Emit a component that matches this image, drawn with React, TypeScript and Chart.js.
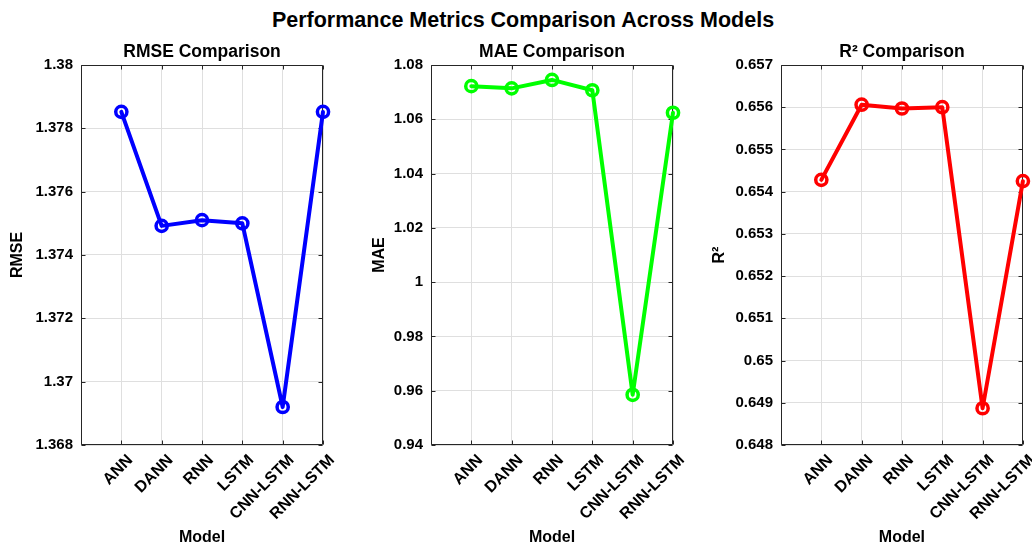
import React, { useEffect, useRef } from 'react';
import { Chart, registerables } from 'chart.js';

Chart.register(...registerables);

// ---- data ----
const models = ['ANN', 'DANN', 'RNN', 'LSTM', 'CNN-LSTM', 'RNN-LSTM'];
const rmseValues = [1.37852, 1.37492, 1.3751, 1.375, 1.3692, 1.37852];
const maeValues = [1.0722, 1.0714, 1.0745, 1.0707, 0.9585, 1.0624];
const r2Values = [0.65428, 0.65606, 0.65597, 0.656, 0.64887, 0.65425];
const rmseTicks = [1.368, 1.37, 1.372, 1.374, 1.376, 1.378, 1.38];
const maeTicks = [0.94, 0.96, 0.98, 1.0, 1.02, 1.04, 1.06, 1.08];
const r2Ticks = [0.648, 0.649, 0.65, 0.651, 0.652, 0.653, 0.654, 0.655, 0.656, 0.657];
const xTickPositions = [0, 1, 2, 3, 4, 5, 6];

const mainTitle = 'Performance Metrics Comparison Across Models';
const xAxisLabel = 'Model';

// ---- layout / style ----
const FONT = '"Liberation Sans", Arial, Helvetica, sans-serif';
const FIG_W = 1032;
const FIG_H = 549;
const CANVAS_W = 344;
const AREA_TOP = 65;
const AREA_BOTTOM = 445;
const GRID = '#dfdfdf';
const AXIS = '#262626';

type PanelDef = {
  title: string;
  yLabel: string;
  values: number[];
  ticks: number[];
  color: string;
  decimals: number;
  canvasLeft: number;
  areaLeft: number;
  areaRight: number;
  yTitleX: number;
};

const panels: PanelDef[] = [
  { title: 'RMSE Comparison', yLabel: 'RMSE', values: rmseValues, ticks: rmseTicks, color: '#0000ff', decimals: 3, canvasLeft: 0, areaLeft: 81, areaRight: 323, yTitleX: 18 },
  { title: 'MAE Comparison', yLabel: 'MAE', values: maeValues, ticks: maeTicks, color: '#00ff00', decimals: 2, canvasLeft: 344, areaLeft: 87, areaRight: 329, yTitleX: 36 },
  { title: 'R² Comparison', yLabel: 'R²', values: r2Values, ticks: r2Ticks, color: '#ff0000', decimals: 3, canvasLeft: 688, areaLeft: 93, areaRight: 336, yTitleX: 32 },
];

function Panel({ def }: { def: PanelDef }) {
  const ref = useRef<HTMLCanvasElement | null>(null);

  useEffect(() => {
    if (!ref.current) return;
    const decor = {
      id: 'decor',
      beforeDatasetsDraw(chart: any) {
        const { ctx, chartArea } = chart;
        const l = Math.round(chartArea.left) + 0.5;
        const r = Math.round(chartArea.right) - 0.5;
        const t = Math.round(chartArea.top) + 0.5;
        const b = Math.round(chartArea.bottom) - 0.5;
        ctx.save();
        ctx.strokeStyle = AXIS;
        ctx.lineWidth = 1;
        ctx.beginPath();
        ctx.rect(l, t, r - l, b - t);
        ctx.stroke();
        const ys = chart.scales.y;
        const xs = chart.scales.x;
        const TL = 4;
        ctx.beginPath();
        def.ticks.forEach((v) => {
          const py = Math.round(ys.getPixelForValue(v)) + 0.5;
          ctx.moveTo(l, py);
          ctx.lineTo(l + TL, py);
          ctx.moveTo(r, py);
          ctx.lineTo(r - TL, py);
        });
        xTickPositions.forEach((v) => {
          const px = Math.round(xs.getPixelForValue(v)) + 0.5;
          ctx.moveTo(px, b);
          ctx.lineTo(px, b - TL);
          ctx.moveTo(px, t);
          ctx.lineTo(px, t + TL);
        });
        ctx.stroke();
        ctx.restore();
      },
      afterDraw(chart: any) {
        const { ctx, chartArea } = chart;
        ctx.save();
        ctx.fillStyle = '#000';
        ctx.font = `bold 17.5px ${FONT}`;
        ctx.textAlign = 'center';
        ctx.textBaseline = 'alphabetic';
        ctx.fillText(def.title, (chartArea.left + chartArea.right) / 2, 57);
        ctx.restore();
      },
    };

    const tickFont = { family: FONT, size: 15, weight: 'bold' as const };
    const xTickFont = { family: FONT, size: 16, weight: 'bold' as const };
    const labelFont = { family: FONT, size: 16, weight: 'bold' as const };
    const chart = new Chart(ref.current, {
      type: 'line',
      data: {
        datasets: [
          {
            data: def.values.map((v, i) => ({ x: i + 1, y: v })),
            borderColor: def.color,
            borderWidth: 4,
            borderJoinStyle: 'round',
            borderCapStyle: 'round',
            pointRadius: 5.6,
            pointHoverRadius: 5.6,
            pointBorderWidth: 3.5,
            pointBackgroundColor: 'rgba(0,0,0,0)',
            pointBorderColor: def.color,
            tension: 0,
            clip: false as any,
          },
        ],
      },
      plugins: [decor],
      options: {
        responsive: false,
        animation: false,
        devicePixelRatio: 1,
        layout: { padding: { left: 0, right: CANVAS_W - def.areaRight, top: AREA_TOP, bottom: 0 } },
        plugins: { legend: { display: false }, title: { display: false }, tooltip: { enabled: false } },
        scales: {
          x: {
            type: 'linear',
            min: 0,
            max: 6,
            afterBuildTicks: (s: any) => {
              s.ticks = xTickPositions.map((v) => ({ value: v }));
            },
            afterFit: (s: any) => {
              s.height = FIG_H - AREA_BOTTOM;
              s.paddingLeft = 0;
              s.paddingRight = 0;
            },
            grid: { color: GRID, lineWidth: 1, drawTicks: false },
            border: { display: false },
            ticks: {
              autoSkip: false,
              minRotation: 45,
              maxRotation: 45,
              padding: 6,
              labelOffset: 9,
              color: '#000',
              font: xTickFont,
              callback: (v: any) => models[Number(v) - 1] ?? '',
            },
            title: { display: true, text: xAxisLabel, color: '#000', font: labelFont, padding: { top: 0, bottom: 2 } },
          },
          y: {
            type: 'linear',
            min: def.ticks[0],
            max: def.ticks[def.ticks.length - 1],
            afterBuildTicks: (s: any) => {
              s.ticks = def.ticks.map((v) => ({ value: v }));
            },
            afterFit: (s: any) => {
              s.width = def.areaLeft;
              s.paddingTop = 0;
              s.paddingBottom = 0;
            },
            grid: { color: GRID, lineWidth: 1, drawTicks: false },
            border: { display: false },
            ticks: {
              padding: 8,
              color: '#000',
              font: tickFont,
              callback: (v: any) => String(parseFloat(Number(v).toFixed(def.decimals))),
            },
            title: { display: true, text: def.yLabel, color: '#000', font: labelFont, padding: { top: def.yTitleX - 9.6, bottom: 0 } },
          },
        },
      } as any,
    });
    return () => chart.destroy();
  }, [def]);

  return (
    <canvas
      ref={ref}
      width={CANVAS_W}
      height={FIG_H}
      style={{ position: 'absolute', left: def.canvasLeft, top: 0, width: CANVAS_W, height: FIG_H }}
    />
  );
}

export default function App() {
  return (
    <div style={{ position: 'absolute', left: 0, top: 0, width: FIG_W, height: FIG_H, background: '#fff', overflow: 'hidden' }}>
      <div
        style={{
          position: 'absolute',
          left: 7,
          top: 10,
          width: FIG_W,
          textAlign: 'center',
          fontFamily: FONT,
          fontWeight: 'bold',
          fontSize: '21.5px',
          lineHeight: '21.5px',
          color: '#000',
          whiteSpace: 'nowrap',
        }}
      >
        {mainTitle}
      </div>
      {panels.map((p) => (
        <Panel key={p.title} def={p} />
      ))}
    </div>
  );
}
